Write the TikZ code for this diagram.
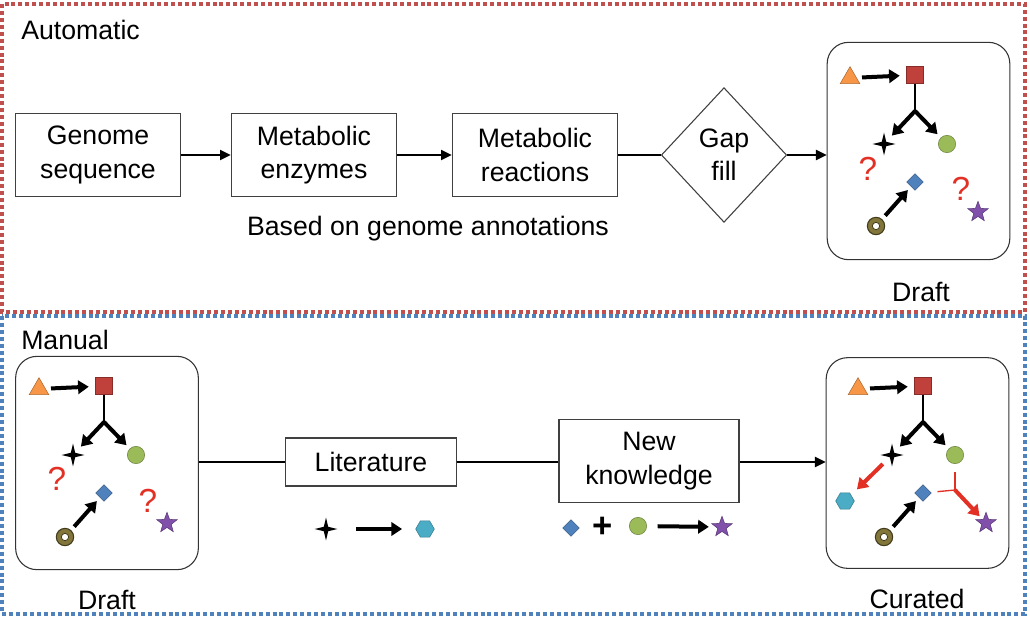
\documentclass[tikz,border=0pt]{standalone}
\usepackage{fontspec}
\setmainfont{Liberation Sans}
\usepackage{tikz}
\usetikzlibrary{arrows.meta}
\usetikzlibrary{positioning,shapes.geometric}
\usepackage{xcolor}
\definecolor{autored}{RGB}{192,80,77}
\definecolor{manblue}{RGB}{79,129,189}
\definecolor{qred}{RGB}{226,48,36}
\definecolor{triorange}{RGB}{247,150,70}
\definecolor{sqred}{RGB}{192,64,60}
\definecolor{ballgreen}{RGB}{155,187,89}
\definecolor{gemblue}{RGB}{79,129,189}
\definecolor{starpurple}{RGB}{128,80,170}
\definecolor{hexcyan}{RGB}{75,172,198}
\definecolor{ringolive}{RGB}{130,118,58}
\tikzset{
    stepbox/.style={
        draw=black!75,
        rectangle,
        fill=white,
        line width=0.8pt,
        minimum width=124pt,
        minimum height=62pt,
        align=center,
        font=\fontsize{20}{25}\selectfont
    },
    gapnode/.style={
        draw=black!75,
        diamond,
        fill=white,
        line width=0.8pt,
        inner sep=0pt,
        minimum width=94pt,
        minimum height=101pt,
        align=center,
        font=\fontsize{20}{25}\selectfont
    },
    netbox/.style={
        draw=black!80,
        rectangle,
        rounded corners=16pt,
        line width=0.8pt,
        minimum width=137pt,
        minimum height=163pt
    },
    caption/.style={font=\fontsize{20}{24}\selectfont},
    link/.style={line width=1.4pt, -{Triangle[length=8pt, width=7.5pt]}},
    plain/.style={line width=1.4pt},
    fat/.style={line width=3pt, -{Triangle[length=8pt, width=10pt]},
        shorten <=3.5pt, shorten >=3.5pt},
    fatred/.style={fat, draw=qred},
    qmark/.style={text=qred, font=\fontsize{25}{25}\selectfont},
    tri/.style={regular polygon, regular polygon sides=3, fill=triorange,
        draw=triorange!70!black, inner sep=0pt, minimum size=17pt},
    sq/.style={rectangle, fill=sqred, draw=sqred!70!black, inner sep=0pt,
        minimum size=12.5pt},
    ball/.style={circle, fill=ballgreen, draw=ballgreen!70!black, inner sep=0pt,
        minimum size=13pt},
    gem/.style={diamond, fill=gemblue, draw=gemblue!70!black, inner sep=0pt,
        minimum size=12.5pt},
    pstar/.style={star, star points=5, star point ratio=2.4, fill=starpurple,
        draw=starpurple!70!black, inner sep=0pt, minimum size=16pt},
    spark/.style={star, star points=4, star point ratio=3.6, fill=black,
        inner sep=0pt, minimum size=17pt},
    hexa/.style={regular polygon, regular polygon sides=6, fill=hexcyan,
        draw=hexcyan!70!black, inner sep=0pt, minimum size=14pt},
    ring/.style={circle, fill=ringolive, draw=ringolive!50!black, line width=0.8pt,
        inner sep=0pt, minimum size=13pt},
    hole/.style={circle, fill=white, draw=ringolive!50!black, line width=0.6pt,
        inner sep=0pt, minimum size=5.5pt},
    autoframe/.style={draw=autored, line width=2.6pt, dash pattern=on 3pt off 2.2pt},
    manframe/.style={draw=manblue, line width=2.6pt, dash pattern=on 3pt off 2.2pt}
}
% small network drawn inside a draft/curated box, #1 = name prefix
\newcommand{\basenet}[1]{%
    \node[tri] (#1tri) at (23,36) {};
    \node[sq] (#1sq) at (88,33) {};
    \coordinate (#1fork) at (88,69);
    \node[spark] (#1spark) at (57,102) {};
    \node[ball] (#1ball) at (120,102) {};
    \node[gem] (#1gem) at (88,140) {};
    \node[ring] (#1ring) at (49,184) {};
    \node[hole] (#1hole) at (49,184) {};
    \node[pstar] (#1star) at (151,170) {};
    \draw[fat, shorten <=4pt, shorten >=5pt] (#1tri) -- (#1sq);
    \draw[line width=0.9pt] (#1sq) -- (#1fork);
    \draw[fat, shorten <=0pt, shorten >=6pt] (#1fork) -- (#1spark);
    \draw[fat, shorten <=0pt] (#1fork) -- (#1ball);
    \draw[fat] (#1ring) -- (#1gem);
}

\begin{document}
\begin{tikzpicture}[x=0.75pt, y=-0.75pt]
  \useasboundingbox (0,0) rectangle (1030,625);

  % Frames
  \draw[autoframe] (2,4) rectangle (1025,312);
  \draw[manframe] (2,316) rectangle (1025,614);
  \node[caption, anchor=west, inner sep=0pt] (autotitle) at (21,30) {Automatic};
  \node[caption, anchor=west, inner sep=0pt] (mantitle) at (21,340) {Manual};

  % Automatic pipeline
  \node[stepbox] (genome) at (98,155) {Genome\\sequence};
  \node[stepbox] (enzymes) at (314,155) {Metabolic\\enzymes};
  \node[stepbox] (reactions) at (535,155) {Metabolic\\reactions};
  \node[gapnode] (gapfill) at (724,155) {Gap\\fill};
  \node[netbox] (drafttop) at (918.5,151) {};
  \node[caption] (drafttoplabel) at (921,292) {Draft};
  \node[caption] (annot) at (428,229) {Based on genome annotations};

  \draw[link] (genome) -- (enzymes);
  \draw[link] (enzymes) -- (reactions);
  \draw[plain] (reactions) -- (gapfill);
  \draw[link] (gapfill.east) -- (gapfill.east -| drafttop.west);

  \begin{scope}[shift={(827,42)}]
    \basenet{a}
    \node[qmark] (aqone) at (41,127) {?};
    \node[qmark] (aqtwo) at (134,147) {?};
  \end{scope}

  % Manual curation
  \node[netbox, minimum height=160pt] (draftbot) at (107,463) {};
  \node[caption] (draftbotlabel) at (107,600) {Draft};
  \node[stepbox, minimum width=128pt, minimum height=36pt] (literature) at (371,462) {Literature};
  \node[stepbox, minimum width=135pt] (knowledge) at (649,461) {New\\knowledge};
  \node[netbox, minimum height=158pt] (curated) at (917.5,463) {};
  \node[caption] (curatedlabel) at (917,599) {Curated};

  \draw[plain] (draftbot.east |- literature) -- (literature);
  \draw[plain] (literature) -- (knowledge.west |- literature);
  \draw[link] (knowledge.east |- literature) -- (curated.west |- literature);

  \begin{scope}[shift={(16,353)}]
    \basenet{b}
    \node[qmark] (bqone) at (41,126) {?};
    \node[qmark] (bqtwo) at (132,148) {?};
  \end{scope}

  \begin{scope}[shift={(835,353)}]
    \basenet{c}
    \node[hexa] (chex) at (10,148) {};
    \coordinate (ctee) at (120,137);
    \draw[fatred, shorten <=7pt, shorten >=6pt] (cspark) -- (chex);
    \draw[qred, line width=1pt, shorten <=6pt] (cball) -- (ctee);
    \draw[qred, line width=1pt, shorten <=5pt] (cgem) -- (ctee);
    \draw[fatred, shorten <=0pt, shorten >=3pt] (ctee) -- (cstar);
  \end{scope}

  % Literature / knowledge examples
  \node[spark] (litspark) at (326,529) {};
  \node[hexa] (lithex) at (425,529) {};
  \draw[fat, shorten <=13pt, shorten >=10pt] (litspark) -- (lithex);
  \node[gem] (kgem) at (571,528) {};
  \node[font=\fontsize{26}{26}\selectfont\bfseries] (kplus) at (603,527) {+};
  \node[ball] (kball) at (638,526) {};
  \node[pstar] (kstar) at (722,527) {};
  \draw[fat, shorten <=8pt, shorten >=5pt] (kball) -- (kstar);
\end{tikzpicture}
\end{document}
